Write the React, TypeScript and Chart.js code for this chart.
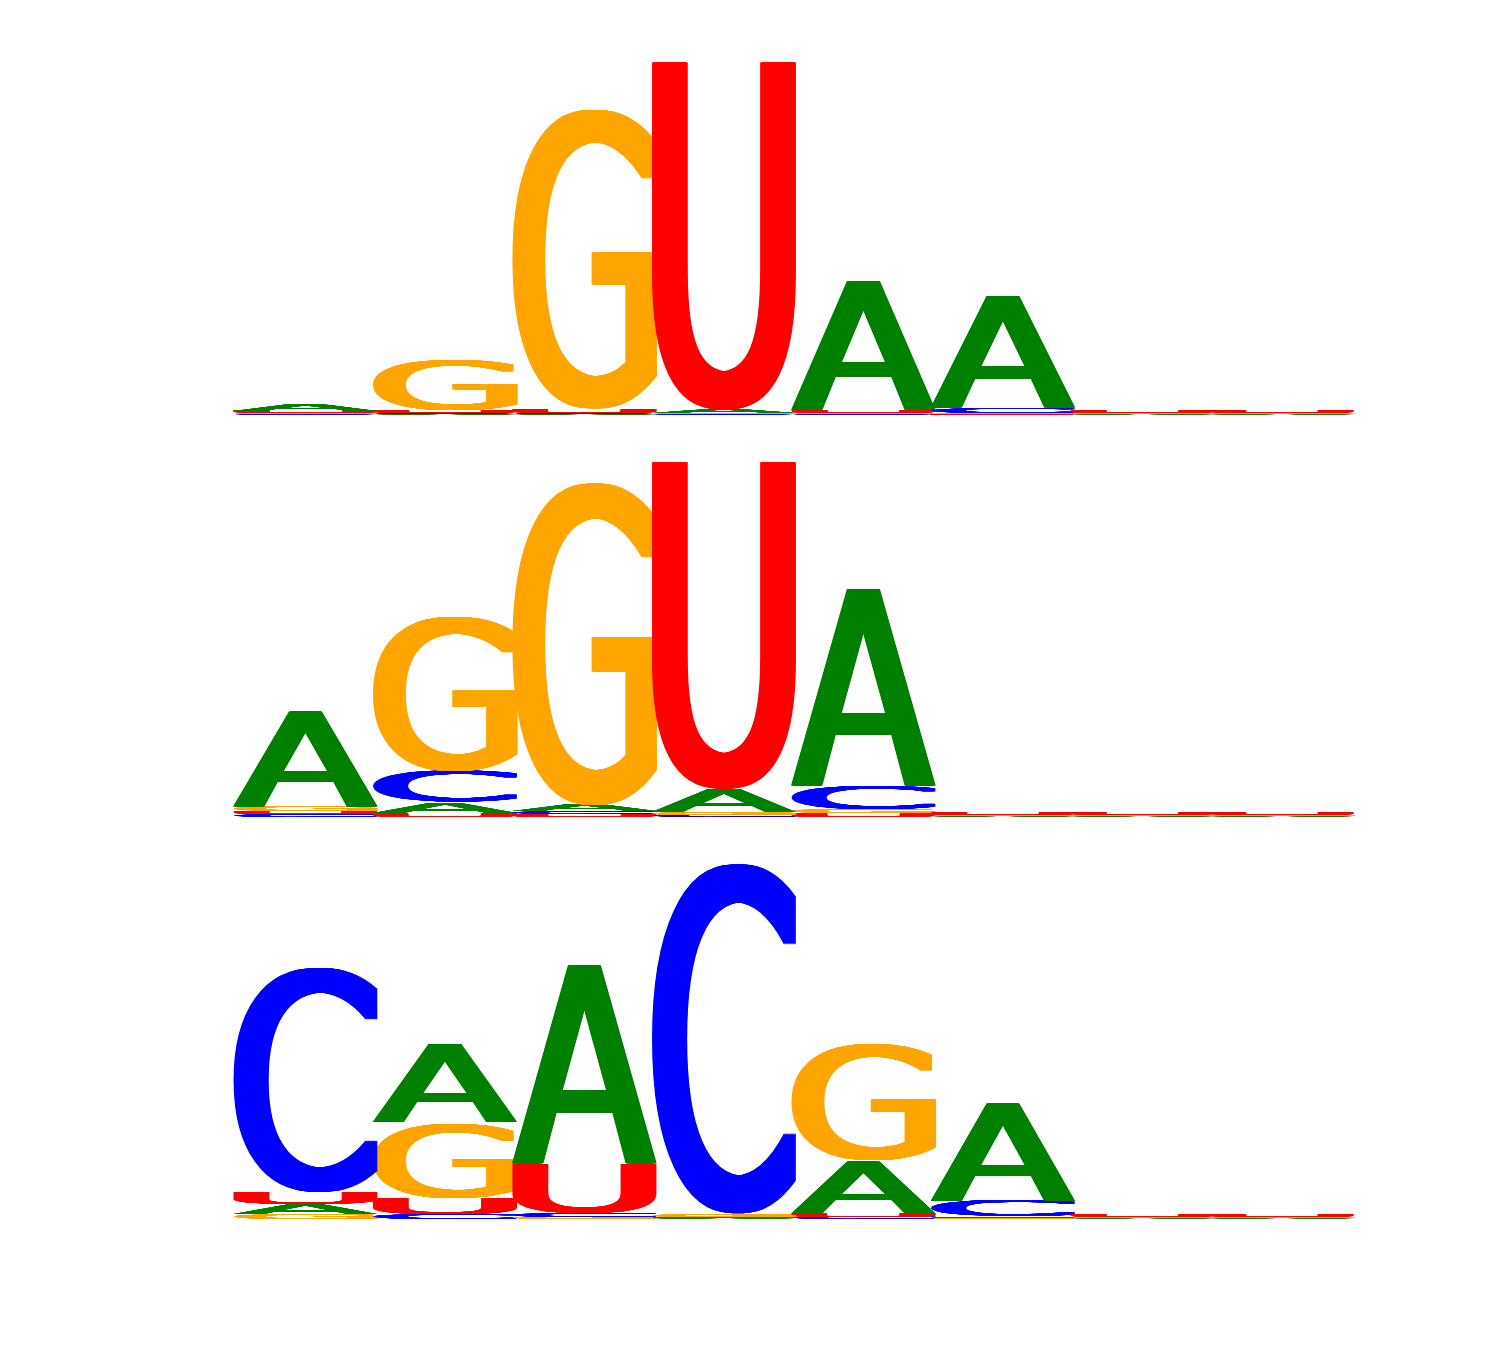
import React, { useEffect, useRef } from 'react';
import { Chart, registerables } from 'chart.js';
Chart.register(...registerables);

// positions along the motif
const positions = ['1', '2', '3', '4', '5', '6', '7', '8'];
const letters = ['A', 'C', 'G', 'U'];
const letterColors: Record<string, string> = { A: '#008000', C: '#0000ff', G: '#ffa500', U: '#ff0000' };

// Panel 1 letter heights (bits)
const p1A = [0.034, 0.006, 0.006, 0.017, 0.73, 0.635, 0.003, 0.003];
const p1C = [0.006, 0.006, 0.006, 0.006, 0.006, 0.028, 0.003, 0.003];
const p1G = [0.006, 0.281, 1.697, 0.006, 0.006, 0.006, 0.003, 0.003];
const p1U = [0.011, 0.017, 0.022, 1.966, 0.017, 0.004, 0.017, 0.017];

// Panel 2 letter heights (bits)
const p2A = [0.539, 0.062, 0.034, 0.129, 1.112, 0.003, 0.003, 0.003];
const p2C = [0.017, 0.174, 0.017, 0.011, 0.135, 0.003, 0.003, 0.003];
const p2G = [0.028, 0.876, 1.826, 0.017, 0.022, 0.003, 0.003, 0.003];
const p2U = [0.017, 0.022, 0.014, 1.848, 0.02, 0.017, 0.017, 0.017];

// Panel 3 letter heights (bits)
const p3A = [0.056, 0.444, 1.124, 0.006, 0.298, 0.556, 0.003, 0.003];
const p3C = [1.275, 0.028, 0.022, 1.989, 0.011, 0.09, 0.003, 0.003];
const p3G = [0.028, 0.427, 0.011, 0.017, 0.663, 0.006, 0.003, 0.003];
const p3U = [0.067, 0.09, 0.281, 0.006, 0.022, 0.008, 0.017, 0.017];

const panels = [
  { A: p1A, C: p1C, G: p1G, U: p1U, top: 60, height: 355 },
  { A: p2A, C: p2C, G: p2G, U: p2U, top: 460, height: 357 },
  { A: p3A, C: p3C, G: p3G, U: p3U, top: 861, height: 358 },
];

const FONT = '400px "DejaVu Sans"';
const SMEAR = 21; // horizontal thickening in glyph units
const SMEAR_STEPS = 21;

const glyphPlugin = {
  id: 'glyphs',
  afterDatasetsDraw(chart: any) {
    const ctx: CanvasRenderingContext2D = chart.ctx;
    ctx.save();
    ctx.font = FONT;
    ctx.textAlign = 'left';
    ctx.textBaseline = 'alphabetic';
    chart.data.datasets.forEach((ds: any, di: number) => {
      const meta = chart.getDatasetMeta(di);
      meta.data.forEach((el: any, i: number) => {
        const L = ds.letters[i];
        const p = el.getProps(['x', 'y', 'base', 'width'], true);
        const left = p.x - p.width / 2;
        const top = Math.min(p.y, p.base);
        const h = Math.abs(p.base - p.y);
        if (h <= 0) return;
        const m = ctx.measureText(L);
        const gw = m.actualBoundingBoxLeft + m.actualBoundingBoxRight + SMEAR;
        const gh = m.actualBoundingBoxAscent + m.actualBoundingBoxDescent;
        ctx.save();
        ctx.translate(left, top);
        ctx.scale(p.width / gw, h / gh);
        ctx.fillStyle = letterColors[L];
        for (let k = 0; k <= SMEAR_STEPS; k++) {
          ctx.fillText(L, m.actualBoundingBoxLeft + (SMEAR * k) / SMEAR_STEPS, m.actualBoundingBoxAscent);
        }
        ctx.restore();
      });
    });
    ctx.restore();
  },
};

function buildDatasets(panel: any) {
  const ranks: any[] = [0, 1, 2, 3].map(() => ({ data: [] as any[], letters: [] as string[] }));
  let maxTotal = 0;
  positions.forEach((_, i) => {
    const col = letters.map((L) => ({ L, v: panel[L][i] as number })).sort((a, b) => a.v - b.v);
    let acc = 0;
    col.forEach((c, r) => {
      ranks[r].data.push([acc, acc + c.v]);
      ranks[r].letters.push(c.L);
      acc += c.v;
    });
    maxTotal = Math.max(maxTotal, acc);
  });
  return {
    maxTotal,
    datasets: ranks.map((r) => ({
      data: r.data,
      letters: r.letters,
      backgroundColor: 'rgba(0,0,0,0)',
      borderWidth: 0,
      categoryPercentage: 1,
      barPercentage: 1.065,
    })),
  };
}

function Panel({ panel }: { panel: any }) {
  const ref = useRef<HTMLCanvasElement>(null);
  useEffect(() => {
    if (!ref.current) return;
    const { datasets, maxTotal } = buildDatasets(panel);
    const chart = new Chart(ref.current, {
      type: 'bar',
      data: { labels: positions, datasets: datasets as any },
      options: {
        animation: false,
        responsive: false,
        devicePixelRatio: 1,
        layout: { padding: { left: 236, right: 148, top: 0, bottom: 0 } },
        plugins: { legend: { display: false }, tooltip: { enabled: false } },
        scales: {
          x: { display: false, stacked: true, grid: { display: false } },
          y: { display: false, min: 0, max: maxTotal, grid: { display: false } },
        },
      },
      plugins: [glyphPlugin],
    } as any);
    return () => chart.destroy();
  }, [panel]);
  return (
    <canvas
      ref={ref}
      width={1500}
      height={panel.height}
      style={{ position: 'absolute', left: 0, top: panel.top, width: 1500, height: panel.height }}
    />
  );
}

export default function App() {
  useEffect(() => {
    document.body.style.margin = '0';
  }, []);
  return (
    <div style={{ position: 'relative', width: 1500, height: 1350, background: '#fff' }}>
      {panels.map((p, i) => (
        <Panel key={i} panel={p} />
      ))}
    </div>
  );
}
